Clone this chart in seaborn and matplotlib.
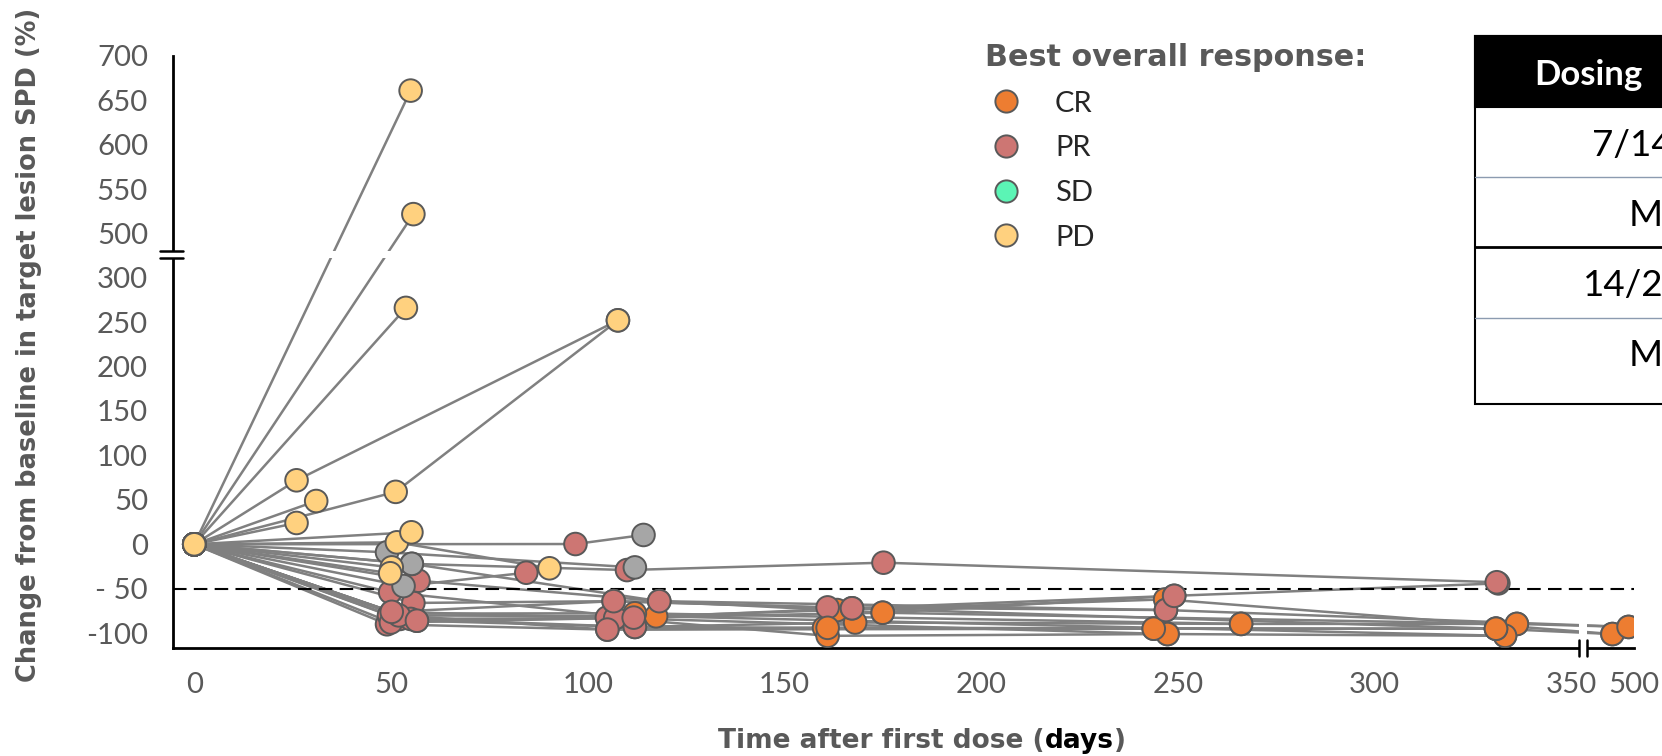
import numpy as np
import pandas as pd
import matplotlib
matplotlib.use("Agg")
import matplotlib.pyplot as plt
import seaborn as sns
from matplotlib.lines import Line2D
from matplotlib.patches import Rectangle

# --- data: one list per patient (days after first dose, % change, response at visit)
visit_days = [
    [0, 49, 105, 160.1, 243.9, 330.9, 494.5],
    [0, 52.3, 107, 161, 247.4, 333.2],
    [0, 56.6, 112, 168, 266.1, 336.2, 498.6],
    [0, 50.2, 104.9, 163.4, 246.8, 494.5],
    [0, 55.7, 106.6, 161, 247, 498.6],
    [0, 49.8, 111.7, 167.2, 249.1, 331.5],
    [0, 57, 118.2, 175, 336.2],
    [0, 49.5, 117.4, 333.2],
    [0, 50.5, 112, 266.1],
    [0, 50, 107, 247.4],
    [0, 55, 112, 161, 330.9],
    [0, 52, 105, 243.9],
    [0, 55.3, 118.2, 247],
    [0, 50.2, 106.6, 167.2, 330.9],
    [0, 56.6, 111.7, 175, 249.1],
    [0, 55.3, 110, 175.2, 331.1],
    [0, 53.2, 84.4],
    [0, 96.9, 114.2],
    [0, 49, 112],
    [0, 51.5, 90.3],
    [0, 50.2],
    [0, 49.8],
    [0, 55.2],
    [0, 26],
    [0, 31],
    [0, 51.2, 107.7],
    [0, 26, 107.7],
    [0, 53.8],
    [0, 55.7],
    [0, 55],
]
pct_change = [
    [0, -90, -96, -94, -95, -95, -101],
    [0, -84, -83, -103, -101, -103],
    [0, -86, -93, -88, -89.6, -89.6, -93],
    [0, -76, -82.5, -74, -62, -101],
    [0, -66, -64, -71, -74, -93],
    [0, -54, -82.5, -72, -58, -44],
    [0, -41, -64, -77, -89.6],
    [0, -80, -81, -103],
    [0, -78, -77.6, -89.6],
    [0, -88, -83, -101],
    [0, -84, -93, -94, -95],
    [0, -80, -96, -95],
    [0, -22, -64, -74],
    [0, -76, -64, -72, -95],
    [0, -86, -82.5, -77, -58],
    [0, -22, -29, -20.7, -42.7],
    [0, -47, -32],
    [0, 0.3, 10.5],
    [0, -9, -26],
    [0, 2.2, -27],
    [0, -26],
    [0, -32.6],
    [0, 13.5],
    [0, 24],
    [0, 48.7],
    [0, 59, 252],
    [0, 72, 252],
    [0, 266],
    [0, 522],
    [0, 661],
]
visit_response = [
    ["PR", "PR", "PR", "CR", "CR", "CR", "CR"],
    ["PR", "PR", "PR", "CR", "CR", "CR"],
    ["PR", "PR", "PR", "CR", "CR", "CR", "CR"],
    ["PR", "PR", "PR", "CR", "CR", "CR"],
    ["PR", "PR", "PR", "PR", "PR", "CR"],
    ["PR", "PR", "PR", "PR", "PR", "PR"],
    ["PR", "PR", "PR", "CR", "CR"],
    ["PR", "PR", "CR", "CR"],
    ["PR", "PR", "CR", "CR"],
    ["PR", "PR", "PR", "CR"],
    ["PR", "PR", "PR", "CR", "CR"],
    ["PR", "PR", "PR", "CR"],
    ["PR", "NE", "PR", "PR"],
    ["PR", "PR", "PR", "PR", "CR"],
    ["PR", "PR", "PR", "CR", "PR"],
    ["NE", "NE", "PR", "PR", "PR"],
    ["NE", "NE", "PR"],
    ["PR", "PR", "NE"],
    ["NE", "NE", "NE"],
    ["PD", "PD", "PD"],
    ["PD", "PD"],
    ["PD", "PD"],
    ["PD", "PD"],
    ["PD", "PD"],
    ["PD", "PD"],
    ["PD", "PD", "PD"],
    ["PD", "PD", "PD"],
    ["PD", "PD"],
    ["PD", "PD"],
    ["PD", "PD"],
]

legend_labels = ["CR", "PR", "SD", "PD"]
response_colors = {"CR": "#ED7D31", "PR": "#CD7673", "SD": "#5BF5B5",
                   "PD": "#FFD17F", "NE": "#A6A6A6"}

x_ticks = [0, 50, 100, 150, 200, 250, 300, 350, 500]
y_ticks = [-100, -50, 0, 50, 100, 150, 200, 250, 300, 500, 550, 600, 650, 700]
y_ticklabels = ["-100", "- 50", "0", "50", "100", "150", "200", "250", "300",
                "500", "550", "600", "650", "700"]

rows = []
for pid, (d, v, r) in enumerate(zip(visit_days, pct_change, visit_response)):
    for dd, vv, rr in zip(d, v, r):
        rows.append((pid, dd, vv, rr))
df = pd.DataFrame(rows, columns=["patient", "day", "change", "response"])

sns.set_style("white")
plt.rcParams["font.family"] = ["Lato", "DejaVu Sans"]
grey_txt = "#595959"

fig = plt.figure(figsize=(16.62, 7.56), dpi=100)
ax = fig.add_axes([0.1041, 0.1425, 0.8791, 0.7835])

sns.lineplot(data=df, x="day", y="change", units="patient", estimator=None,
             sort=False, color="#808080", linewidth=1.8, ax=ax, zorder=2)
ax.axvspan(352, 488, color="white", lw=0, zorder=2.2)
ax.axhspan(322, 480, color="white", lw=0, zorder=2.2)
ax.axhline(-50, color="black", lw=1.5, ls=(0, (6.5, 3.5)), zorder=2.4)
sns.scatterplot(data=df, x="day", y="change", hue="response",
                palette=response_colors, s=265, edgecolor=grey_txt,
                linewidth=1.4, legend=False, ax=ax, zorder=3)

# broken axes: squeeze the gaps with piecewise scales
xr = [-1000, 352, 488, 10000]
xv = [-1000, 352, 354, 354 + 9512]
yr = [-1000, 322, 480, 10000]
yv = [-1000, 322, 329.5, 329.5 + 9520]
ax.set_xscale("function", functions=(lambda v: np.interp(v, xr, xv),
                                     lambda v: np.interp(v, xv, xr)))
ax.set_yscale("function", functions=(lambda v: np.interp(v, yr, yv),
                                     lambda v: np.interp(v, yv, yr)))
ax.set_xlim(-5.4, 500)
ax.set_ylim(-117, 700)

ax.set_xticks(x_ticks)
ax.set_xticklabels([str(t) for t in x_ticks])
ax.set_yticks(y_ticks)
ax.set_yticklabels(y_ticklabels)
ax.minorticks_off()
ax.tick_params(axis="both", length=8, width=1.6, color="black",
               labelsize=21.2, labelcolor=grey_txt, direction="out")
ax.tick_params(axis="y", pad=10)
ax.tick_params(axis="x", pad=9)
ax.set_xlabel("")
ax.set_ylabel("")
for side in ["top", "right"]:
    ax.spines[side].set_visible(False)
for side in ["left", "bottom"]:
    ax.spines[side].set_linewidth(2)
    ax.spines[side].set_color("black")

# break marks
ytr = ax.get_yaxis_transform()
xtr = ax.get_xaxis_transform()
ax.plot([0, 0], [323, 479], transform=ytr, color="white", lw=6,
        solid_capstyle="butt", clip_on=False, zorder=5)
ax.plot([353, 487], [0, 0], transform=xtr, color="white", lw=6,
        solid_capstyle="butt", clip_on=False, zorder=5)
for yb in [322, 480]:
    ax.plot([-0.009, 0.007], [yb, yb], transform=ytr, color="black", lw=1.8,
            clip_on=False, zorder=6)
for xb in [352, 488]:
    ax.plot([xb, xb], [-0.013, 0.014], transform=xtr, color="black", lw=1.8,
            clip_on=False, zorder=6)

# axis titles
fig.text(0.0175, 0.5437, "Change from baseline in target lesion SPD (%)",
         rotation=90, ha="center", va="center", family="DejaVu Sans",
         weight="bold", size=18.5, color=grey_txt)
renderer = fig.canvas.get_renderer()
xpos = 0.432
for part, col in [("Time after first dose (", grey_txt), ("days", "black"), (")", grey_txt)]:
    t = fig.text(xpos, 0.0102, part, ha="left", va="baseline", weight="bold",
                 family="DejaVu Sans", size=19, color=col)
    xpos = t.get_window_extent(renderer).x1 / fig.bbox.width

# legend
handles = [Line2D([], [], marker="o", ls="", markersize=16,
                  markerfacecolor=response_colors[k], markeredgecolor=grey_txt,
                  markeredgewidth=1.4) for k in legend_labels]
leg = fig.legend(handles, legend_labels, title="Best overall response:",
                 loc="upper left", bbox_to_anchor=(0.5927, 0.9431), frameon=False,
                 fontsize=21,
                 title_fontproperties={"weight": "bold", "size": 21.8,
                                       "family": "DejaVu Sans"},
                 alignment="left", labelspacing=0.64, handlelength=1.44,
                 handletextpad=0.96, borderaxespad=0, borderpad=0)
leg.get_title().set_color(grey_txt)

# dosing table (cut by the right edge)
tl = 1475 / 1662
def fy(px):
    return 1 - px / 756
fig.add_artist(Rectangle((tl, fy(404)), 0.3, fy(35.7) - fy(404), transform=fig.transFigure,
                         facecolor="white", edgecolor="black", lw=1.5, zorder=4))
fig.add_artist(Rectangle((tl, fy(107)), 0.3, fy(35.7) - fy(107), transform=fig.transFigure,
                         facecolor="black", edgecolor="black", lw=1.5, zorder=4))
for py, col, lw in [(177, "#8C9BB0", 1.0), (247, "black", 2.0), (318, "#8C9BB0", 1.0)]:
    fig.add_artist(Line2D([tl, 1.0], [fy(py), fy(py)], transform=fig.transFigure,
                          color=col, lw=lw, zorder=4.5))
fig.text(1534 / 1662, fy(85), "Dosing", color="white", weight="bold", size=25,
         ha="left", va="baseline", zorder=5)
for txt, px, py in [("7/14", 1592, 156.5), ("M", 1629, 226.5),
                    ("14/2", 1583, 296.5), ("M", 1629, 366.5)]:
    fig.text(px / 1662, fy(py), txt, color="black", size=26.5,
             ha="left", va="baseline", zorder=5)

fig.savefig("out.png", dpi=100)
